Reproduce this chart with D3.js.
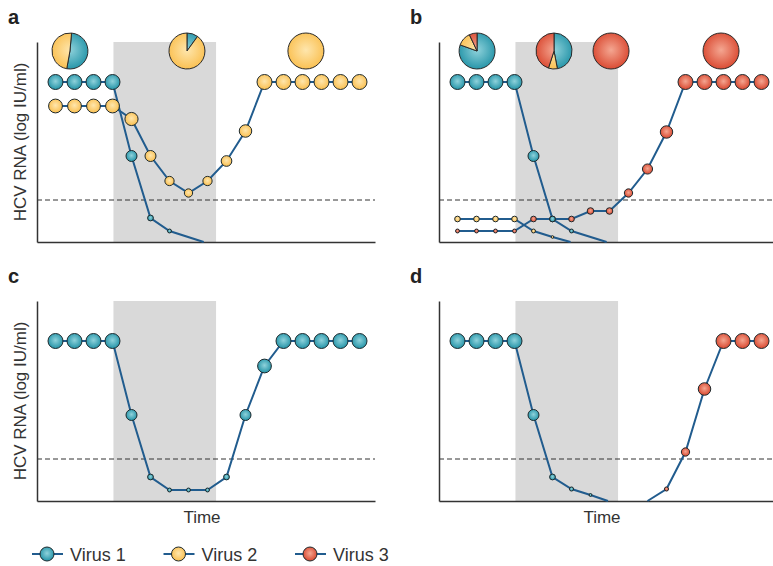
<!DOCTYPE html>
<html>
<head>
<meta charset="utf-8">
<script src="https://cdn.jsdelivr.net/npm/d3@7"></script>
<style>
  body { margin: 0; background: #fff; }
  svg { display: block; font-family: "Liberation Sans", Arial, sans-serif; }
</style>
</head>
<body>
<svg width="773" height="566"></svg>
<script>
// series values: [time step, log HCV RNA]
const aVirus1 = [[0,8],[1,8],[2,8],[3,8],[4,4.3],[5,1.2],[6,0.55],[7.8,0]]
const aVirus2 = [[0,6.8],[1,6.8],[2,6.8],[3,6.8],[4,6.15],[5,4.3],[6,3.05],[7,2.45],[8,3.05],[9,4.05],[10,5.55],
  [11,8],[12,8],[13,8],[14,8],[15,8],[16,8]]

const bVirus1 = [[0,8],[1,8],[2,8],[3,8],[4,4.3],[5,1.15],[6,0.55],[7.85,0]]
const bVirus2 = [[0,1.15],[1,1.15],[2,1.15],[3,1.15],[4,0.55],[5,0.25],[5.95,0]]
const bVirus3 = [[0,0.55],[1,0.55],[2,0.55],[3,0.55],[4,1.15],[5,1.15],[6,1.15],[7,1.55],[8,1.55],[9,2.45],[10,3.65],
  [11,5.5],[12,8],[13,8],[14,8],[15,8],[16,8]]

const cVirus1 = [[0,8],[1,8],[2,8],[3,8],[4,4.3],[5,1.2],[6,0.55],[7,0.55],[8,0.55],[9,1.2],[10,4.3],[11,6.75],
  [12,8],[13,8],[14,8],[15,8],[16,8]]

const dVirus1 = [[0,8],[1,8],[2,8],[3,8],[4,4.3],[5,1.2],[6,0.6],[7,0.3],[7.92,0]]
const dVirus3 = [[10,0],[11,0.6],[12,2.45],[13,5.6],[14,8],[15,8],[16,8]]

// quasispecies composition pies: time, share per virus
const aPies = [
  {t: 0.76, start: 0.09, parts: [["v1", 0.514], ["v2", 0.486]]},
  {t: 6.92, start: 0, parts: [["v1", 0.1], ["v2", 0.9]]},
  {t: 13.18, start: 0, parts: [["v2", 1]]}
]
const bPies = [
  {t: 1.03, start: 0, parts: [["v1", 0.805], ["v2", 0.125], ["v3", 0.07]]},
  {t: 5.08, start: 0, parts: [["v1", 0.47], ["v2", 0.08], ["v3", 0.45]]},
  {t: 8.08, start: 0, parts: [["v3", 1]]},
  {t: 13.87, start: 0, parts: [["v3", 1]]}
]

const treatment = [3.05, 8.45]
const detectionLimit = 2.1
const pieLevel = 9.55

const legendKeys = ["v1", "v2", "v3"]
const legendLabels = ["Virus 1", "Virus 2", "Virus 3"]

const colors = {
  v1: {light: "#8fd2db", dark: "#2393a7"},
  v2: {light: "#fee6ad", dark: "#fabf4f"},
  v3: {light: "#f4a691", dark: "#d9472f"}
}
const lineColor = "#215c8e"
const inkColor = "#333"

const panels = [
  {label: "a", x0: 37, xr: 375, yb: 242, series: [["v2", aVirus2], ["v1", aVirus1]], pies: aPies, ylabel: true, time: false},
  {label: "b", x0: 439, xr: 773, yb: 242, series: [["v3", bVirus3], ["v2", bVirus2], ["v1", bVirus1]], pies: bPies, ylabel: false, time: false},
  {label: "c", x0: 37, xr: 375, yb: 501, series: [["v1", cVirus1]], pies: [], ylabel: true, time: true},
  {label: "d", x0: 439, xr: 773, yb: 501, series: [["v3", dVirus3], ["v1", dVirus1]], pies: [], ylabel: false, time: true}
]

const svg = d3.select("svg")
const defs = svg.append("defs")

// marker gradients
Object.keys(colors).forEach(k => {
  const gr = defs.append("radialGradient").attr("id", "grad-" + k)
    .attr("cx", "50%").attr("cy", "45%").attr("r", "55%")
  gr.append("stop").attr("offset", "0%").attr("stop-color", colors[k].light)
  gr.append("stop").attr("offset", "100%").attr("stop-color", colors[k].dark)
})

const rScale = d3.scaleSqrt().domain([0, 8]).range([0, 7.5])
const pieR = 18

function drawPanel(p) {
  const g = svg.append("g")
  const x = d3.scaleLinear().domain([0, 16]).range([p.x0 + 18.5, p.x0 + 18.5 + 19 * 16])
  const y = d3.scaleLinear().domain([0, 10]).range([p.yb, p.yb - 200])

  g.append("rect")
    .attr("x", x(treatment[0]))
    .attr("y", y(10))
    .attr("width", x(treatment[1]) - x(treatment[0]))
    .attr("height", y(0) - y(10))
    .attr("fill", "#d9d9d9")

  g.append("line")
    .attr("x1", p.x0).attr("x2", p.xr)
    .attr("y1", y(detectionLimit)).attr("y2", y(detectionLimit))
    .attr("stroke", inkColor).attr("stroke-width", 1)
    .attr("stroke-dasharray", "5,3")

  const xAxisScale = x.copy().domain([x.invert(p.x0), x.invert(p.xr)]).range([p.x0, p.xr])
  g.append("g")
    .attr("transform", `translate(0,${p.yb})`)
    .call(d3.axisBottom(xAxisScale).tickValues([]).tickSizeOuter(0))
  g.append("g")
    .attr("transform", `translate(${p.x0},0)`)
    .call(d3.axisLeft(y).tickValues([]).tickSizeOuter(0))
  g.selectAll(".domain").attr("stroke", inkColor).attr("stroke-width", 1.5)

  const line = d3.line().x(d => x(d[0])).y(d => y(d[1]))

  g.selectAll(".vline")
    .data(p.series)
    .join("path")
    .attr("d", d => line(d[1]))
    .attr("fill", "none")
    .attr("stroke", lineColor)
    .attr("stroke-width", 2)

  p.series.forEach(([key, values]) => {
    g.selectAll(null)
      .data(values.filter(d => d[1] > 0))
      .join("circle")
      .attr("cx", d => x(d[0]))
      .attr("cy", d => y(d[1]))
      .attr("r", d => rScale(d[1]))
      .attr("fill", `url(#grad-${key})`)
      .attr("stroke", "#1e2a2e")
      .attr("stroke-width", 1)
  })

  const pie = d3.pie().sort(null).value(d => d[1])
  const arc = d3.arc().innerRadius(0).outerRadius(pieR)
  p.pies.forEach((pd, i) => {
    const cx = x(pd.t), cy = y(pieLevel)
    const pg = g.append("g").attr("transform", `translate(${cx},${cy})`)
    pd.parts.forEach(([key]) => {
      const gr = defs.append("radialGradient")
        .attr("id", `pie-${p.label}${i}-${key}`)
        .attr("gradientUnits", "userSpaceOnUse")
        .attr("cx", 0).attr("cy", -1).attr("r", pieR + 2)
      gr.append("stop").attr("offset", "0%").attr("stop-color", colors[key].light)
      gr.append("stop").attr("offset", "100%").attr("stop-color", colors[key].dark)
    })
    const slices = pie.startAngle(pd.start).endAngle(pd.start + 2 * Math.PI)(pd.parts)
    pg.selectAll("path")
      .data(slices)
      .join("path")
      .attr("d", d => pd.parts.length === 1 ? null : arc(d))
      .attr("fill", d => `url(#pie-${p.label}${i}-${d.data[0]})`)
      .attr("stroke", "#2a2a2a")
      .attr("stroke-width", 1)
    if (pd.parts.length === 1) {
      pg.append("circle").attr("r", pieR)
        .attr("fill", `url(#pie-${p.label}${i}-${pd.parts[0][0]})`)
        .attr("stroke", "#2a2a2a").attr("stroke-width", 1)
    }
  })

  svg.append("text")
    .attr("x", p.x0 - 29)
    .attr("y", p.yb - 218)
    .attr("font-size", 20)
    .attr("font-weight", "bold")
    .attr("fill", "#222")
    .text(p.label)

  if (p.ylabel) {
    svg.append("text")
      .attr("transform", `translate(26,${y(5)}) rotate(-90)`)
      .attr("text-anchor", "middle")
      .attr("font-size", 17)
      .attr("fill", inkColor)
      .text("HCV RNA (log IU/ml)")
  }
  if (p.time) {
    svg.append("text")
      .attr("x", (p.x0 + p.xr) / 2 - 4)
      .attr("y", p.yb + 22)
      .attr("text-anchor", "middle")
      .attr("font-size", 17)
      .attr("fill", inkColor)
      .text("Time")
  }
}

panels.forEach(drawPanel)

// legend
const legend = svg.append("g").attr("transform", "translate(47,554)")
const item = legend.selectAll("g")
  .data(legendKeys)
  .join("g")
  .attr("transform", (d, i) => `translate(${i * 131.5},0)`)
item.append("line")
  .attr("x1", -15).attr("x2", 16)
  .attr("stroke", lineColor).attr("stroke-width", 2)
item.append("circle")
  .attr("r", 7)
  .attr("fill", d => `url(#grad-${d})`)
  .attr("stroke", "#1e2a2e").attr("stroke-width", 1)
item.append("text")
  .attr("x", 23).attr("y", 7)
  .attr("font-size", 18)
  .attr("fill", inkColor)
  .text((d, i) => legendLabels[i])
</script>
</body>
</html>
